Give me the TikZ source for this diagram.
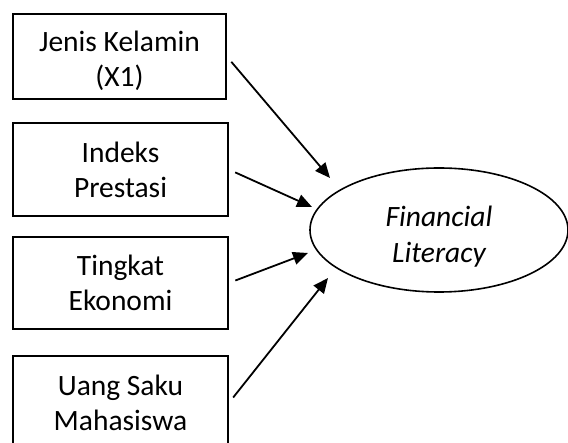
\documentclass[tikz,border=0pt]{standalone}
\usepackage{fontspec}
\setmainfont{Carlito}
\usetikzlibrary{arrows.meta,shapes.geometric}
\tikzset{
  varbox/.style={draw, line width=1.6pt, inner sep=0pt, align=center,
    font=\fontsize{29.5}{35}\selectfont},
  latent/.style={draw, ellipse, line width=1.6pt, inner sep=0pt, align=center,
    font=\fontsize{29.5}{36}\selectfont\itshape},
  path/.style={line width=1.8pt, -{Triangle[length=15pt,width=13pt]}, shorten <=7pt},
}
\begin{document}
\begin{tikzpicture}[x=1pt,y=-1pt]
\useasboundingbox (0,0) rectangle (568,443);
\clip (0,0) rectangle (568,443);
\node[varbox, minimum width=213pt, minimum height=85pt] (b1) at (119.5,56.5) {\rule{0pt}{30pt}Jenis Kelamin\\(X1)};
\node[varbox, minimum width=215pt, minimum height=93pt] (b2) at (120.5,169.5) {Indeks\\Prestasi};
\node[varbox, minimum width=215pt, minimum height=92pt] (b3) at (120.5,283) {Tingkat\\Ekonomi};
\node[varbox, minimum width=215pt, minimum height=94pt] (b4) at (120.5,403) {Uang Saku\\Mahasiswa};
\node[latent, minimum width=258pt, minimum height=124pt] (fl) at (439,230) {\rule{0pt}{33pt}Financial\\Literacy};
\coordinate (t1) at (330,178);
\coordinate (t2) at (312,207);
\coordinate (t3) at (308,253);
\coordinate (t4) at (328,278);
\draw[path] (b1.east) -- (t1);
\draw[path] (b2.east) -- (t2);
\draw[path] (b3.east) -- (t3);
\draw[path] (b4.east) -- (t4);
\end{tikzpicture}
\end{document}
